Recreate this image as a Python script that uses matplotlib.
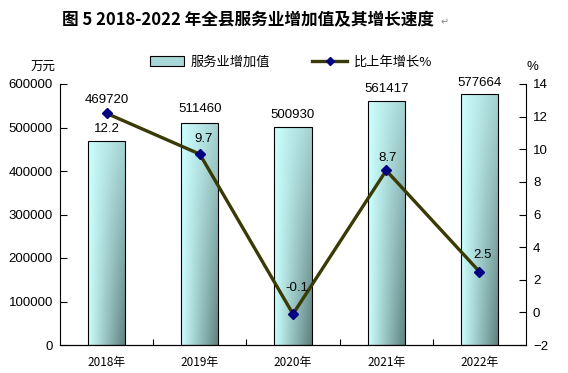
import numpy as np
import matplotlib.pyplot as plt
from matplotlib.patches import Rectangle
from matplotlib.lines import Line2D

years = ['2018年', '2019年', '2020年', '2021年', '2022年']
value = [469720, 511460, 500930, 561417, 577664]
growth = [12.2, 9.7, -0.1, 8.7, 2.5]

# label offsets in points (bar label, line label)
bar_off = [(0, 29), (0, 10), (0, 8.5), (0, 8.5), (0, 8)]
line_off = [(0, -11), (3, 11), (3, 19), (1, 9), (2, 12)]

cjk = ['Noto Sans CJK SC', 'DejaVu Sans']
num = ['Liberation Sans', 'DejaVu Sans']
plt.rcParams['font.family'] = num

fig = plt.figure(figsize=(5.68, 3.73), dpi=100)
ax = fig.add_axes([60/568, 28/373, 466/568, 261/373])
ax2 = ax.twinx()

x = np.arange(len(years))
bars = ax.bar(x, value, width=0.4, facecolor='none', edgecolor='black', linewidth=0.8, zorder=3)

# gradient fill for bars
light = np.array([0.80, 1.0, 1.0])
dark = np.array([0.36, 0.50, 0.49])
gx, gy = np.meshgrid(np.linspace(0, 1, 60), np.linspace(1, 0, 120))
t = gx * (0.35 + 0.65 * (1 - gy))
grad = light + (dark - light) * t[..., None]
for b in bars:
    im = ax.imshow(grad, extent=[b.get_x(), b.get_x() + b.get_width(), 0, b.get_height()],
                   aspect='auto', zorder=2, interpolation='bilinear')
    im.set_clip_path(b)

ax.set_xlim(-0.5, 4.5)
ax.set_ylim(0, 600000)
ax.set_yticks(np.arange(0, 600001, 100000))
ax.set_xticks(x)
ax.set_xticklabels(years, fontfamily=cjk, fontsize=8.5)
ax.set_xticks(x[:-1] + 0.5, minor=True)
ax.tick_params(axis='x', which='major', length=0, pad=8)
ax.tick_params(axis='x', which='minor', direction='in', length=4, width=0.8)
ax.tick_params(axis='y', direction='in', length=5, width=0.8, labelsize=9.5, pad=5)
ax.spines['top'].set_visible(False)
ax.spines['right'].set_visible(False)

for i in range(len(years)):
    ax.annotate(str(value[i]), (x[i], value[i]), xytext=bar_off[i], textcoords='offset points',
                ha='center', va='center', fontsize=9.5, zorder=5)

ax2.plot(x, growth, color='#3a3a05', linewidth=2.4, marker='D', markersize=5,
         markerfacecolor='#000080', markeredgecolor='#000080', zorder=4)
ax2.set_ylim(-2, 14)
ax2.set_yticks(np.arange(-2, 15, 2))
ax2.tick_params(axis='y', direction='in', length=5, width=0.8, labelsize=9.5, pad=5)
ax2.spines['top'].set_visible(False)
ax2.spines['left'].set_visible(False)
for i in range(len(years)):
    ax2.annotate(str(growth[i]), (x[i], growth[i]), xytext=line_off[i], textcoords='offset points',
                 ha='center', va='center', fontsize=9.5, zorder=5)

for a in (ax, ax2):
    for s in a.spines.values():
        s.set_linewidth(0.8)

fig.text(0.075, 0.82, '万元', fontfamily=cjk, fontsize=9, ha='center', va='center')
fig.text(0.937, 0.82, '%', fontsize=9.5, ha='center', va='center')

fig.text(0.109, 0.946, '图 5 2018-2022 年全县服务业增加值及其增长速度', fontfamily=cjk,
         fontsize=12, fontweight='bold', ha='left', va='center')
fig.text(0.775, 0.94, '\u21b5', fontsize=7, color='#888888', ha='left', va='center')

handles = [Rectangle((0, 0), 1, 1, facecolor='#a9d6d6', edgecolor='black', linewidth=0.8),
           Line2D([0], [0], color='#3a3a05', linewidth=2.4, marker='D', markersize=4,
                  markerfacecolor='#000080', markeredgecolor='#000080')]
fig.legend(handles, ['服务业增加值', '比上年增长%'], loc='center', bbox_to_anchor=(0.512, 0.834),
           ncol=2, frameon=False, prop={'family': cjk, 'size': 9.5}, handlelength=2.6,
           handleheight=0.8, columnspacing=3.2, handletextpad=0.5)

fig.savefig('out.png', dpi=100)
